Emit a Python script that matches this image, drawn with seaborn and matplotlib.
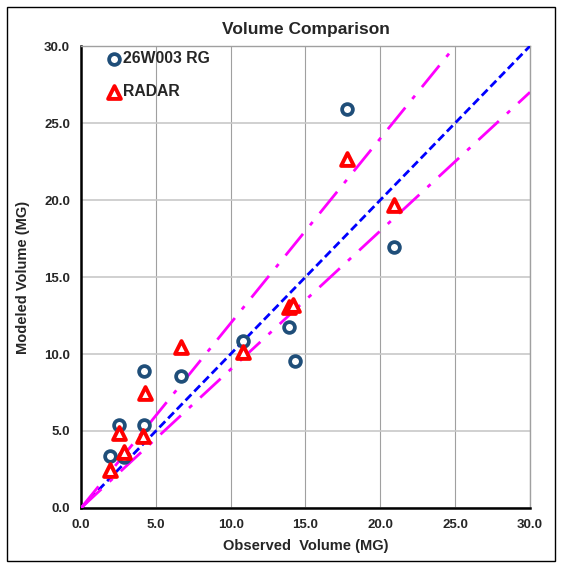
import numpy as np
import pandas as pd
import matplotlib
matplotlib.use("Agg")
import matplotlib.pyplot as plt
import seaborn as sns

sns.set_style("white")
plt.rcParams["font.family"] = ["Liberation Sans", "DejaVu Sans"]

# data (observed, modeled) in MG
rg_obs = [1.95, 2.9, 2.54, 4.23, 4.23, 6.66, 10.84, 13.9, 14.27, 17.8, 20.93]
rg_mod = [3.38, 3.3, 5.39, 8.92, 5.4, 8.57, 10.82, 11.73, 9.56, 25.9, 16.93]
radar_obs = [1.96, 2.9, 2.54, 4.27, 4.16, 6.68, 10.82, 13.9, 14.18, 17.8, 20.93]
radar_mod = [2.47, 3.66, 4.85, 7.45, 4.68, 10.47, 10.15, 13.03, 13.18, 22.64, 19.68]

ticks = [0, 5, 10, 15, 20, 25, 30]
line_x = [0, 30]
upper_slope = 1.2
lower_slope = 0.9

df_rg = pd.DataFrame({"obs": rg_obs, "mod": rg_mod})
df_radar = pd.DataFrame({"obs": radar_obs, "mod": radar_mod})

fig = plt.figure(figsize=(5.61, 5.64), dpi=100)
ax = fig.add_axes([0.1444, 0.0993, 0.8003, 0.8191])

# reference lines
ax.plot(line_x, line_x, color="blue", linestyle=(0, (3, 1.5)), linewidth=2, zorder=3)
ax.plot(line_x, [v * upper_slope for v in line_x], color="magenta", linestyle=(0, (10, 4, 1.5, 4)), linewidth=2, zorder=3)
ax.plot(line_x, [v * lower_slope for v in line_x], color="magenta", linestyle=(0, (10, 4, 1.5, 4)), linewidth=2, zorder=3)

sns.scatterplot(data=df_rg, x="obs", y="mod", ax=ax, marker="o", s=60,
                facecolor="white", edgecolor="#1f4e79", linewidth=2.7,
                label="26W003 RG", zorder=4)
sns.scatterplot(data=df_radar, x="obs", y="mod", ax=ax, marker="^", s=85,
                facecolor="white", edgecolor="red", linewidth=2.8,
                label="RADAR", zorder=5)

ax.set_xlim(0, 30)
ax.set_ylim(0, 30)
ax.set_xticks(ticks)
ax.set_yticks(ticks)
ax.set_xticklabels([f"{t:.1f}" for t in ticks], fontsize=9.5, fontweight="bold")
ax.set_yticklabels([f"{t:.1f}" for t in ticks], fontsize=9.5, fontweight="bold")
ax.tick_params(axis="both", length=4, width=1, direction="out", color="#a0a0a0", pad=4)
ax.xaxis.grid(True, color="#a0a0a0", linewidth=0.8)
ax.yaxis.grid(True, color="#c8c8c8", linewidth=1.2)
ax.set_axisbelow(True)
for side in ["top", "right"]:
    ax.spines[side].set_color("#a0a0a0")
    ax.spines[side].set_linewidth(1)
for side in ["left", "bottom"]:
    ax.spines[side].set_color("black")
    ax.spines[side].set_linewidth(1.8)

ax.set_xlabel("Observed  Volume (MG)", fontsize=10.5, fontweight="bold", labelpad=6)
ax.set_ylabel("Modeled Volume (MG)", fontsize=10.5, fontweight="bold", labelpad=10)
ax.set_title("Volume Comparison", fontsize=12.5, fontweight="bold", pad=9)

ax.legend(loc="upper left", bbox_to_anchor=(0.02, 1.019), frameon=False,
          handletextpad=0.0, labelspacing=1.15, handlelength=1.2,
          prop={"weight": "bold", "size": 11.3})

# outer border of the chart area
fig.patches.append(plt.Rectangle((0.0125, 0.005), 0.9775, 0.982, transform=fig.transFigure,
                                 fill=False, edgecolor="black", linewidth=1))

fig.savefig("out.png", dpi=100)
